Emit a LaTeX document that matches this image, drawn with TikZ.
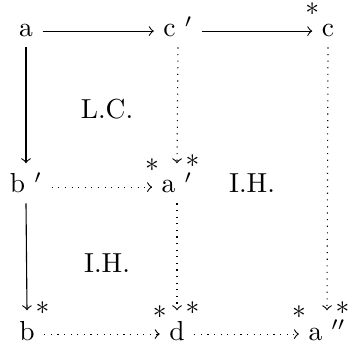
\documentclass[tikz,border=0pt]{standalone}
\usetikzlibrary{arrows.meta}
\begin{document}
\begin{tikzpicture}[x=0.3636pt, y=-0.3636pt,
  ent/.style={anchor=base, inner xsep=3.3pt, inner ysep=3.6pt, text height=7pt, text depth=0pt},
  lbl/.style={anchor=base, inner sep=0pt},
  dot/.style={dash pattern=on 0.4pt off 2pt},
  star/.style={inner sep=0pt},
  hs/.style={pos=1, yshift=7.9pt},
  vs/.style={pos=1, xshift=5.6pt, yshift=0.7pt},
  >=to]
\useasboundingbox (0,0) rectangle (349,349);
% entries
\node[ent] (a)  at (26,37)   {a};
\node[ent] (c1) at (178,37)  {c $'$};
\node[ent] (c)  at (328,37)  {c};
\node[ent] (b1) at (26,193)  {b $'$};
\node[ent] (a1) at (177,193) {a $'$};
\node[ent] (b)  at (27,340)  {b};
\node[ent] (d)  at (177,340) {d};
\node[ent] (a2) at (327,340) {a $''$};
% region labels
\node[lbl] (lc)  at (107,119) {L.C.};
\node[lbl] (ih1) at (252,193) {I.H.};
\node[lbl] (ih2) at (107,272) {I.H.};
% solid arrows
\draw[->] (a.mid east) -- (c1.mid west);
\draw[->] (c1.mid east) -- node[star, hs] {$\ast$} (c.mid west);
\draw[->] (a.south) -- (b1.north);
\draw[->] (b1.south) -- node[star, vs] {$\ast$} (b.north);
% dotted arrows
\draw[->, dot] (b1.mid east) -- node[star, hs] {$\ast$} (a1.mid west);
\draw[->, dot] (c1.south) -- node[star, vs] {$\ast$} (a1.north);
\draw[->, dot] (c.south) -- node[star, vs] {$\ast$} (a2.north);
\draw[->, dot] (a1.south) -- node[star, vs] {$\ast$} (d.north);
\draw[->, dot] (b.mid east) -- node[star, hs] {$\ast$} (d.mid west);
\draw[->, dot] (d.mid east) -- node[star, hs] {$\ast$} (a2.mid west);
\end{tikzpicture}
\end{document}
